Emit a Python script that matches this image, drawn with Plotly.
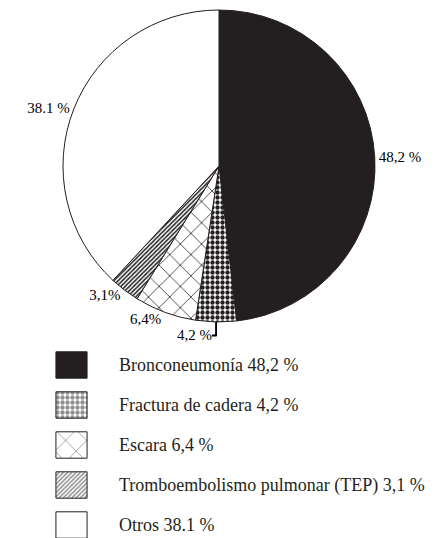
import plotly.graph_objects as go

W, H = 445, 538

categories = ["Bronconeumonía", "Fractura de cadera", "Escara",
              "Tromboembolismo pulmonar (TEP)", "Otros"]
values = [48.2, 4.2, 6.4, 3.1, 38.1]
pie_labels = ["48,2 %", "4,2 %", "6,4%", "3,1%", "38.1 %"]
legend_labels = ["Bronconeumonía 48,2 %", "Fractura de cadera 4,2 %", "Escara 6,4 %",
                 "Tromboembolismo pulmonar (TEP) 3,1 %", "Otros 38.1 %"]

INK = "#231f20"
base_colors = [INK, "white", "white", "white", "white"]
pat_shapes = ["", ".", "x", "/", ""]
pat_sizes = [8, 5, 15, 3, 8]
pat_solid = [0.3, 0.6, 0.1, 0.5, 0.3]

SERIF = "Liberation Serif, Times New Roman, serif"

fig = go.Figure()

# pie
cx, cy, r = 219, 166, 156
fig.add_trace(go.Pie(
    labels=categories, values=values, text=pie_labels,
    textinfo="text", textposition="outside", sort=False,
    direction="clockwise", rotation=0, showlegend=False,
    hoverinfo="label+percent",
    textfont=dict(family=SERIF, size=15, color="black"),
    marker=dict(colors=base_colors, line=dict(color=INK, width=1),
                pattern=dict(shape=pat_shapes, fgcolor=INK, bgcolor=base_colors,
                             size=pat_sizes, solidity=pat_solid, fillmode="replace")),
    domain=dict(x=[(cx - r) / W, (cx + r) / W], y=[1 - (cy + r) / H, 1 - (cy - r) / H]),
))

# legend swatches as bars (one bar per category)
for i, lab in enumerate(legend_labels):
    fig.add_trace(go.Bar(
        y=[lab], x=[1], orientation="h",
        xaxis="x2", yaxis="y2", showlegend=False, hoverinfo="skip",
        width=0.66,
        marker=dict(color=base_colors[i], line=dict(color=INK, width=1),
                    pattern=dict(shape=pat_shapes[i], fgcolor=INK,
                                 size=pat_sizes[i], solidity=pat_solid[i])),
    ))

top_px = 345
fig.update_layout(
    width=W, height=H,
    margin=dict(l=0, r=0, t=0, b=0),
    paper_bgcolor="white", plot_bgcolor="rgba(0,0,0,0)",
    barmode="overlay",
    xaxis2=dict(domain=[55 / W, 88 / W], range=[-0.03, 1.03], visible=False,
                anchor="y2", fixedrange=True),
    yaxis2=dict(domain=[0, 1 - top_px / H], anchor="x2", side="right",
                type="category", categoryorder="array", categoryarray=legend_labels,
                range=[(H - top_px) / 40 - 0.5, -0.5],
                showgrid=False, zeroline=False, showline=False, ticks="",
                ticklabelstandoff=30,
                tickfont=dict(family=SERIF, size=18, color=INK), fixedrange=True),
)

fig.write_html("out.html")
